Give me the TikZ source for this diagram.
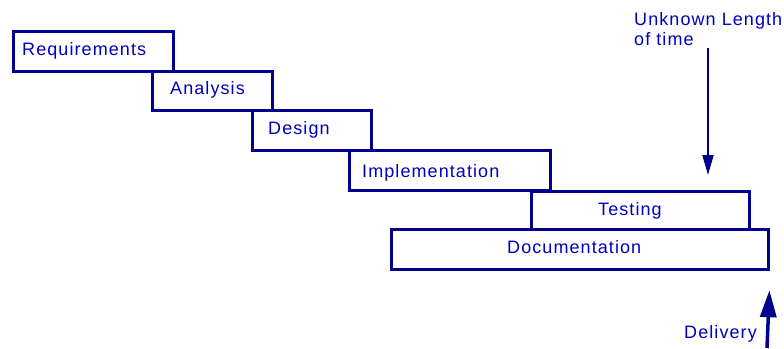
\documentclass[tikz,border=0pt]{standalone}
\usepackage{fontspec}
\setmainfont[LetterSpace=6]{Liberation Sans}
\usetikzlibrary{arrows.meta,positioning}
\definecolor{navy}{RGB}{0,0,140}
\definecolor{textblue}{RGB}{0,0,190}
\tikzset{
  phase/.style={draw=navy, line width=3.2pt, rectangle, inner sep=0pt, anchor=north west},
  lbl/.style={text=textblue, font=\fontsize{18}{20}\selectfont, inner sep=0pt, anchor=base west},
  thinarr/.style={draw=navy, line width=2pt, -{Triangle[width=11pt,length=20pt]}},
  thickarr/.style={draw=navy, line width=3.5pt, -{Triangle[width=16pt,length=27pt]}},
}
\begin{document}
\begin{tikzpicture}[x=1pt,y=-1pt]
\useasboundingbox (0,0) rectangle (784,348);
% the phases
\node[phase, minimum width=160pt, minimum height=40pt] (req) at (12,30) {};
\node[phase, minimum width=120pt, minimum height=39pt] (ana) at (151,70) {};
\node[phase, minimum width=119pt, minimum height=40pt] (des) at (251,109) {};
\node[phase, minimum width=201pt, minimum height=40pt] (imp) at (348,149) {};
\node[phase, minimum width=218pt, minimum height=38pt] (tst) at (530,190) {};
\node[phase, minimum width=377pt, minimum height=40pt] (doc) at (390,228) {};
% labels
\node[lbl] (reqtxt) at (22,55) {Requirements};
\node[lbl] (anatxt) at (170,94) {Analysis};
\node[lbl] (destxt) at (268,134) {Design};
\node[lbl] (imptxt) at (362,177) {Implementation};
\node[lbl] (tsttxt) at (598,215) {Testing};
\node[lbl] (doctxt) at (507,253) {Documentation};
\node[lbl, anchor=north west, align=left] (unk) at (634,12) {Unknown Length\\of time};
\node[lbl] (dlv) at (684,338) {Delivery};
% arrows
\coordinate (tip) at (708,175);
\coordinate (foot) at (767,348);
\draw[thinarr] (unk.south -| tip) ++(0,2) -- (tip);
\draw[thickarr] (foot) -- (doc.south east) [shorten >=19pt];
\end{tikzpicture}
\end{document}
